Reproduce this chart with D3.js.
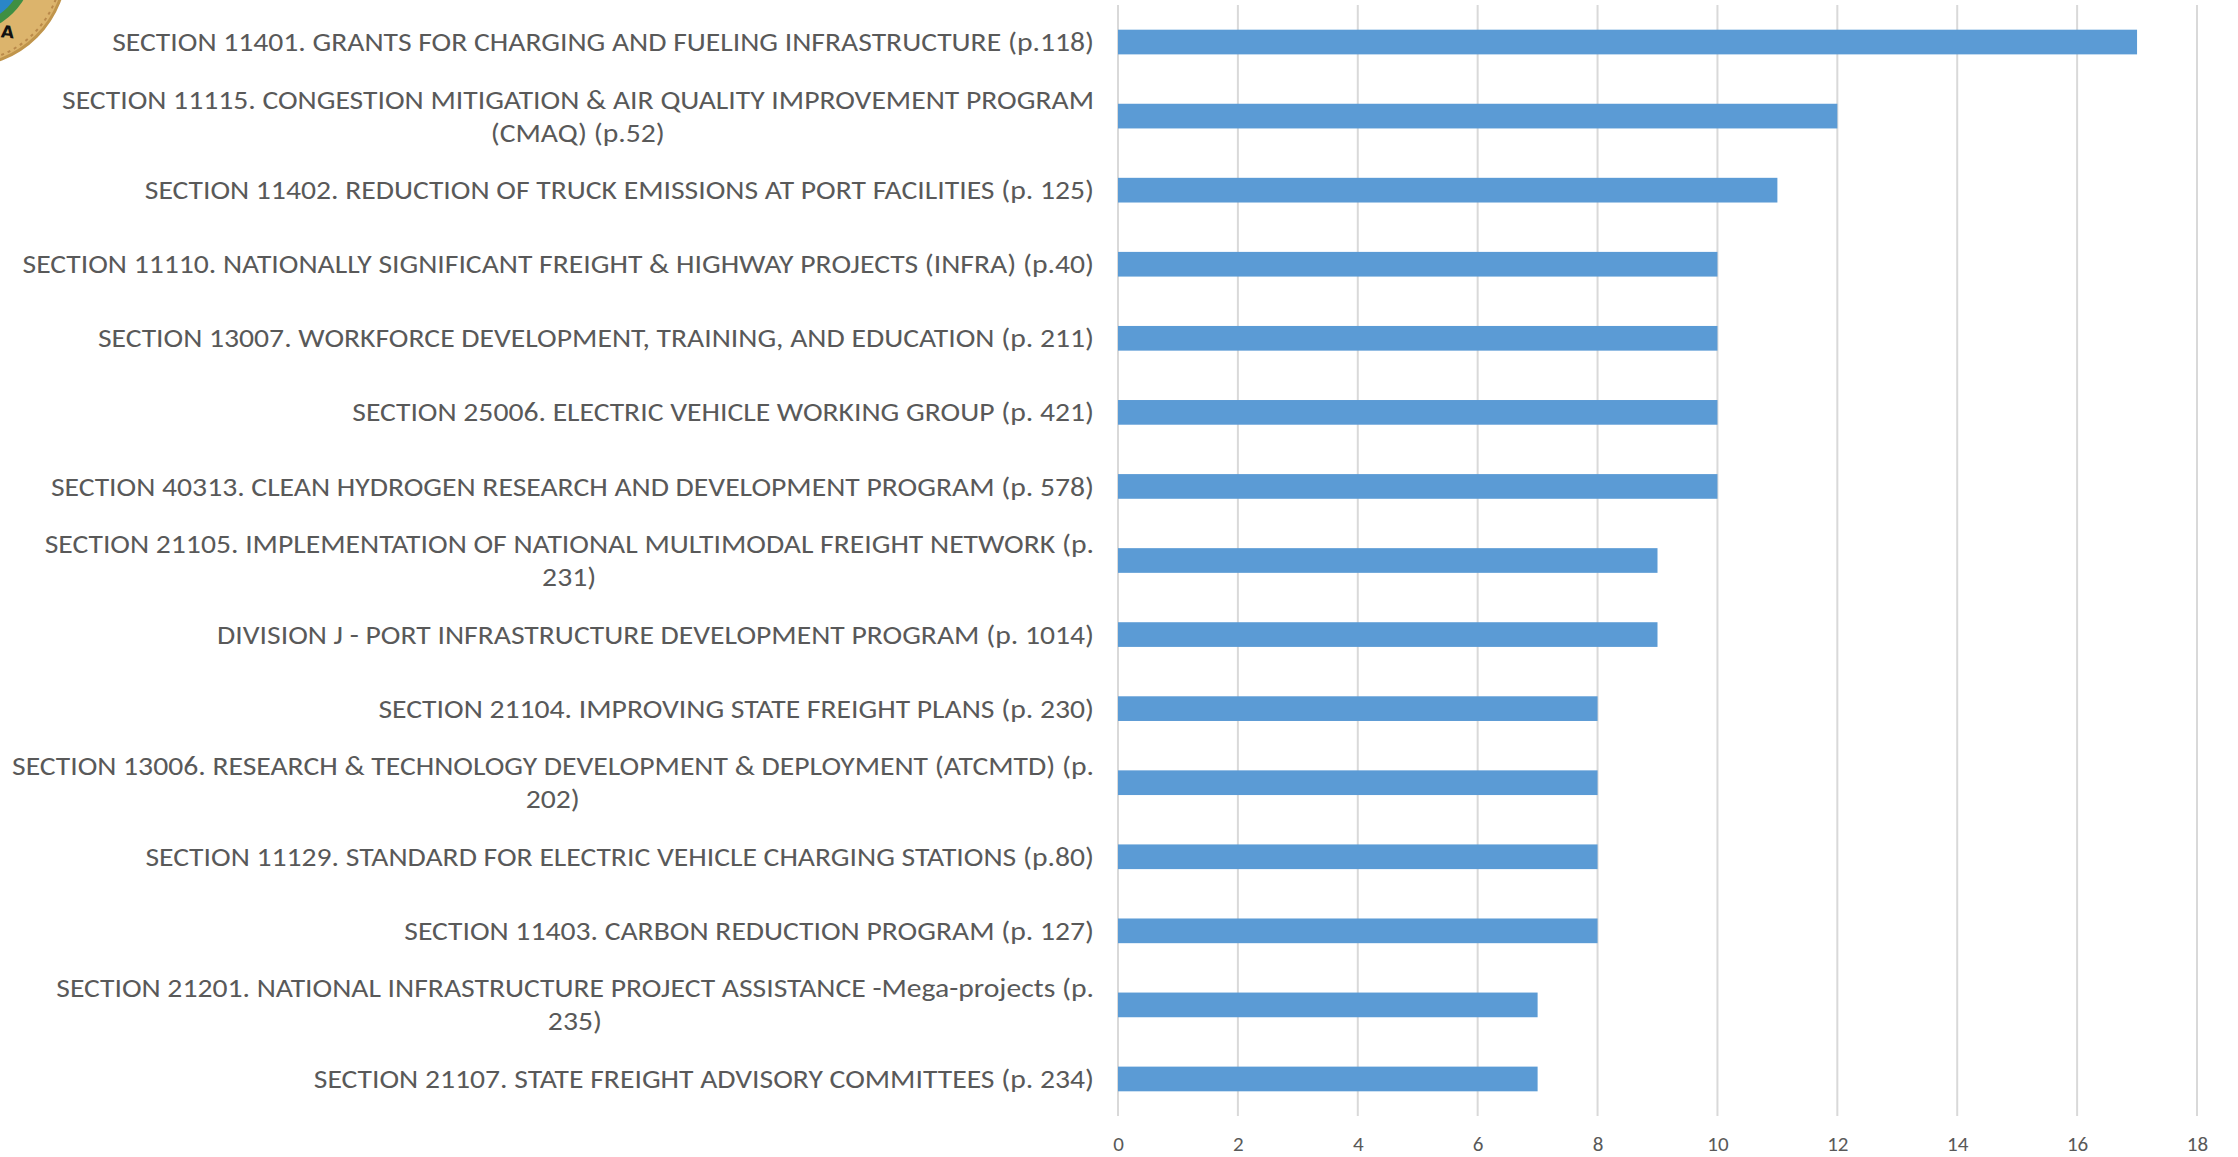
<!DOCTYPE html>
<html>
<head>
<meta charset="utf-8">
<script src="https://cdn.jsdelivr.net/npm/d3@7"></script>
<style>
  body { margin: 0; background: #fff; }
  svg { display: block; }
  text { font-family: Carlito, "Liberation Sans Narrow", "Open Sans", sans-serif; fill: #595959; }
</style>
</head>
<body>
<div id="chart"></div>
<script>
// label lines as they wrap in the original chart
var labels = [
    ['SECTION 11401. GRANTS FOR CHARGING AND FUELING INFRASTRUCTURE (p.118)'],
    ['SECTION 11115. CONGESTION MITIGATION & AIR QUALITY IMPROVEMENT PROGRAM', '(CMAQ) (p.52)'],
    ['SECTION 11402. REDUCTION OF TRUCK EMISSIONS AT PORT FACILITIES (p. 125)'],
    ['SECTION 11110. NATIONALLY SIGNIFICANT FREIGHT & HIGHWAY PROJECTS (INFRA) (p.40)'],
    ['SECTION 13007. WORKFORCE DEVELOPMENT, TRAINING, AND EDUCATION (p. 211)'],
    ['SECTION 25006. ELECTRIC VEHICLE WORKING GROUP (p. 421)'],
    ['SECTION 40313. CLEAN HYDROGEN RESEARCH AND DEVELOPMENT PROGRAM (p. 578)'],
    ['SECTION 21105. IMPLEMENTATION OF NATIONAL MULTIMODAL FREIGHT NETWORK (p.', '231)'],
    ['DIVISION J - PORT INFRASTRUCTURE DEVELOPMENT PROGRAM (p. 1014)'],
    ['SECTION 21104. IMPROVING STATE FREIGHT PLANS (p. 230)'],
    ['SECTION 13006. RESEARCH & TECHNOLOGY DEVELOPMENT & DEPLOYMENT (ATCMTD) (p.', '202)'],
    ['SECTION 11129. STANDARD FOR ELECTRIC VEHICLE CHARGING STATIONS (p.80)'],
    ['SECTION 11403. CARBON REDUCTION PROGRAM (p. 127)'],
    ['SECTION 21201. NATIONAL INFRASTRUCTURE PROJECT ASSISTANCE -Mega-projects (p.', '235)'],
    ['SECTION 21107. STATE FREIGHT ADVISORY COMMITTEES (p. 234)']
];
var values = [17, 12, 11, 10, 10, 10, 10, 9, 9, 8, 8, 8, 8, 7, 7];
var xTicks = [0, 2, 4, 6, 8, 10, 12, 14, 16, 18];

var width = 2238, height = 1157;
var plot = {left: 1118, right: 2197, top: 5, bottom: 1116};
var labelRight = 1094, labelLeft = 11.5;

var svg = d3.select('#chart').append('svg')
    .attr('width', width)
    .attr('height', height);

// scales
var xScale = d3.scaleLinear()
    .domain([0, 18])
    .range([plot.left, plot.right]);

var yScale = d3.scaleBand()
    .domain(d3.range(labels.length))
    .range([plot.top, plot.bottom])
    .paddingInner(2 / 3)
    .paddingOuter(1 / 3);

// seal in the corner, mostly cut off
var seal = svg.append('g').attr('transform', 'translate(-35,-35)');
seal.append('circle').attr('r', 101).attr('fill', '#dcb46c').attr('stroke', '#c0954c').attr('stroke-width', 3);
seal.append('circle').attr('r', 97).attr('fill', 'none').attr('stroke', '#b9894a')
    .attr('stroke-width', 2).attr('stroke-dasharray', '3,4');
seal.append('circle').attr('r', 68).attr('fill', '#3f8f43');
seal.append('circle').attr('r', 60).attr('fill', '#2a86c8');
seal.append('text')
    .attr('transform', 'rotate(-30) translate(0,84) rotate(35)')
    .attr('text-anchor', 'middle')
    .style('font-family', 'DejaVu Sans')
    .style('font-weight', 'bold')
    .style('font-size', '17px')
    .style('fill', '#111')
    .text('A');

// gridlines
svg.append('g').selectAll('line')
    .data(xTicks)
    .join('line')
    .attr('x1', function(d) { return xScale(d); })
    .attr('x2', function(d) { return xScale(d); })
    .attr('y1', plot.top)
    .attr('y2', plot.bottom)
    .attr('stroke', '#d9d9d9')
    .attr('stroke-width', 2);

// bars
svg.append('g').selectAll('rect')
    .data(values)
    .join('rect')
    .attr('x', xScale(0))
    .attr('y', function(d, i) { return yScale(i); })
    .attr('width', function(d) { return xScale(d) - xScale(0); })
    .attr('height', yScale.bandwidth())
    .attr('fill', '#5b9bd5');

// x tick labels
var xAxis = d3.axisBottom(xScale).tickValues(xTicks).tickSize(0).tickPadding(0);
var axisG = svg.append('g')
    .attr('transform', 'translate(0,1151)')
    .call(xAxis);
axisG.select('.domain').remove();
axisG.selectAll('text')
    .attr('dy', '0')
    .attr('y', 0)
    .style('font-size', '21px')
    .style('fill', '#595959');

// category labels
var fontSize = 26, lineH = 33;
var labelG = svg.append('g');
var rows = labelG.selectAll('g.row')
    .data(labels)
    .join('g')
    .attr('class', 'row');

rows.each(function(lines, i) {
    var g = d3.select(this);
    var cy = yScale(i) + yScale.bandwidth() / 2;
    var first = g.append('text')
        .attr('x', 0)
        .attr('y', cy - (lines.length - 1) * lineH / 2)
        .attr('dy', '0.35em')
        .attr('text-anchor', 'end')
        .style('font-size', fontSize + 'px')
        .text(lines[0]);
    var w1 = first.node().getComputedTextLength();
    for (var k = 1; k < lines.length; k++) {
        g.append('text')
            .attr('x', -w1 / 2)
            .attr('y', cy - (lines.length - 1) * lineH / 2 + k * lineH)
            .attr('dy', '0.35em')
            .attr('text-anchor', 'middle')
            .style('font-size', fontSize + 'px')
            .text(lines[k]);
    }
});

// squeeze labels so the widest line spans the same room as in the original
var widest = 0;
labelG.selectAll('text').each(function() {
    widest = Math.max(widest, this.getComputedTextLength());
});
var sx = (labelRight - labelLeft) / widest;
labelG.attr('transform', 'translate(' + labelRight + ',0) scale(' + sx + ',1)');
</script>
</body>
</html>
